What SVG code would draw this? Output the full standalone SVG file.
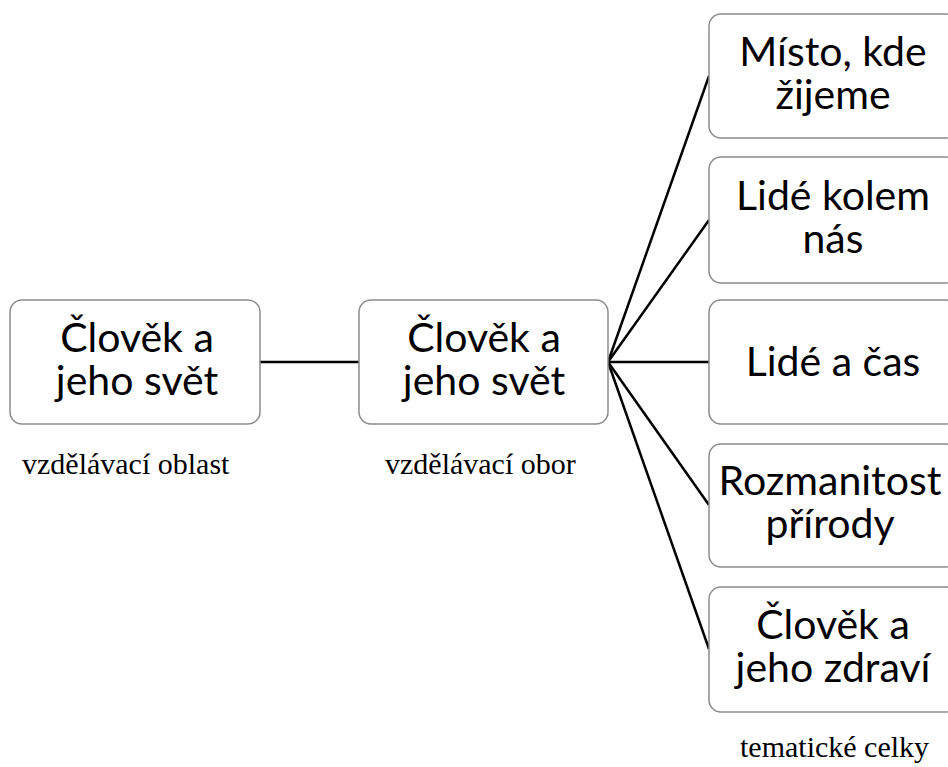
<svg xmlns="http://www.w3.org/2000/svg" width="948" height="767" viewBox="0 0 948 767">
<style>
.box{fill:#fff;stroke:#8c8c8c;stroke-width:1.5}
.t{font-family:Lato,"Open Sans","Noto Sans",sans-serif;font-size:41px;fill:#000;text-anchor:middle}
.lbl{font-family:"Liberation Serif","DejaVu Serif",serif;font-size:30px;fill:#000}
.con{stroke:#000;stroke-width:2.5;fill:none}
</style>
<rect width="948" height="767" fill="#fff"/>
<g id="connectors">
<line class="con" x1="260" y1="362" x2="359" y2="362"/>
<line class="con" x1="608" y1="362" x2="709" y2="76"/>
<line class="con" x1="608" y1="362" x2="709" y2="220"/>
<line class="con" x1="608" y1="362" x2="709" y2="362"/>
<line class="con" x1="608" y1="362" x2="709" y2="505"/>
<line class="con" x1="608" y1="362" x2="709" y2="649"/>
</g>
<g id="oblast">
<rect class="box" x="10" y="300" width="250" height="124" rx="12"/>
<text class="t" x="137" y="352">Člověk a</text>
<text class="t" x="137" y="395">jeho svět</text>
</g>
<g id="obor">
<rect class="box" x="359" y="300" width="249" height="124" rx="12"/>
<text class="t" x="484" y="352">Člověk a</text>
<text class="t" x="484" y="395">jeho svět</text>
</g>
<g id="misto">
<rect class="box" x="709" y="14" width="249" height="124" rx="12"/>
<text class="t" x="833" y="66">Místo, kde</text>
<text class="t" x="833" y="109">žijeme</text>
</g>
<g id="lide-kolem">
<rect class="box" x="709" y="157" width="249" height="126" rx="12"/>
<text class="t" x="833" y="210">Lidé kolem</text>
<text class="t" x="833" y="253">nás</text>
</g>
<g id="lide-cas">
<rect class="box" x="709" y="300" width="249" height="124" rx="12"/>
<text class="t" x="833" y="376">Lidé a čas</text>
</g>
<g id="rozmanitost">
<rect class="box" x="709" y="444" width="249" height="123" rx="12"/>
<text class="t" x="830" y="495">Rozmanitost</text>
<text class="t" x="830" y="538">přírody</text>
</g>
<g id="zdravi">
<rect class="box" x="709" y="587" width="249" height="125" rx="12"/>
<text class="t" x="833" y="639">Člověk a</text>
<text class="t" x="833" y="682">jeho zdraví</text>
</g>
<g id="labels">
<text class="lbl" x="22" y="474">vzdělávací oblast</text>
<text class="lbl" x="385" y="474">vzdělávací obor</text>
<text class="lbl" x="740" y="757">tematické celky</text>
</g>
</svg>
